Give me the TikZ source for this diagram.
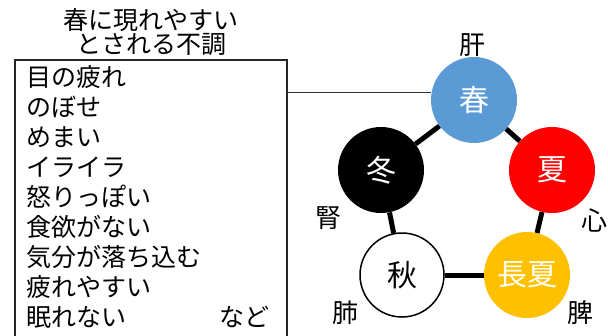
\documentclass[tikz,border=0pt]{standalone}
\usepackage{fontspec}
\setmainfont{Noto Sans CJK JP}
\begin{document}
\begin{tikzpicture}[x=1pt,y=-1pt,
  txt/.style={inner sep=0pt,font=\fontsize{25}{25}\selectfont},
  item/.style={txt,anchor=base west},
  season/.style={circle,minimum size=86pt,inner sep=0pt,font=\fontsize{30}{30}\selectfont},
  link/.style={line width=5pt,black},
  organ/.style={inner sep=0pt,font=\fontsize{26}{26}\selectfont}]
\useasboundingbox (0,0) rectangle (608,335);
\clip (0,0) rectangle (608,335);
\fill[white] (0,0) rectangle (608,335);
% title
\node[txt,anchor=base] (t1) at (151,29) {春に現れやすい};
\node[txt,anchor=base] (t2) at (151,53) {とされる不調};
% box
\draw[line width=1.2pt,black!85] (15,60) rectangle (287,345);
\coordinate (boxr) at (287,92);
\foreach \t [count=\i] in {目の疲れ,のぼせ,めまい,イライラ,怒りっぽい,食欲がない,気分が落ち込む,疲れやすい,眠れない}
  \node[item] (l\i) at (26,56+30*\i) {\t};
\node[item] (nado) at (219,326) {など};
% circles
\node[season,fill={rgb,255:red,91;green,155;blue,213},text=white] (spring) at (474,100) {春};
\node[season,fill=red,text=white] (summer) at (552,170) {夏};
\node[season,fill={rgb,255:red,255;green,192;blue,0},text=white] (late) at (527,275) {長夏};
\node[season,fill=white,draw=black,line width=1.5pt,minimum size=84pt] (autumn) at (402,275) {秋};
\node[season,fill=black,text=white] (winter) at (381,170) {冬};
\draw[link] (spring) -- (summer);
\draw[link] (summer) -- (late);
\draw[link] (late) -- (autumn);
\draw[link] (autumn) -- (winter);
\draw[link] (winter) -- (spring);
\draw[line width=1pt,black!80] (boxr) -- (spring.west |- boxr);
% organs
\node[organ] (kan) at (472,45) {肝};
\node[organ] (shin) at (594,220) {心};
\node[organ] (hi) at (580,313) {脾};
\node[organ] (hai) at (345,313) {肺};
\node[organ] (jin) at (328,218) {腎};
\end{tikzpicture}
\end{document}
